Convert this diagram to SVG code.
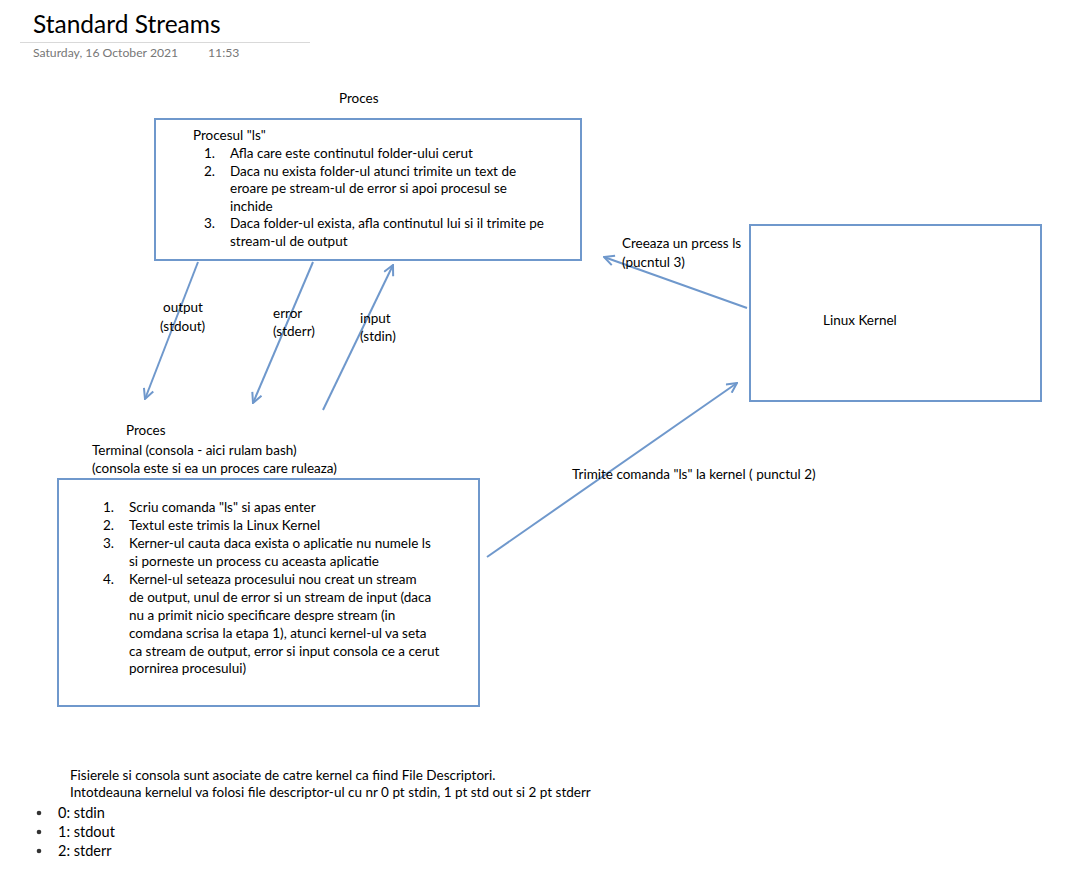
<svg xmlns="http://www.w3.org/2000/svg" width="1091" height="877" viewBox="0 0 1091 877">
<style>
text{font-family:Lato,"Liberation Sans",sans-serif;font-size:13.5px;fill:#000}
.box{fill:none;stroke:#6f98cc;stroke-width:2}
.con{fill:none;stroke:#6f98cc;stroke-width:2;marker-end:url(#arr)}
.title{font-size:24.5px}
.date{font-size:12.2px;fill:#777}
.big{font-size:14.5px}
</style>
<defs>
<marker id="arr" viewBox="0 0 12 12" refX="11" refY="6" markerWidth="12" markerHeight="12" markerUnits="userSpaceOnUse" orient="auto">
<path d="M1,1 L11,6 L1,11" fill="none" stroke="#6f98cc" stroke-width="2"/>
</marker>
</defs>
<rect width="1091" height="877" fill="#fff"/>
<g id="header">
<text class="title" x="33" y="33">Standard Streams</text>
<line x1="20" y1="42.5" x2="310" y2="42.5" stroke="#d9d9d9" stroke-width="1"/>
<text class="date" x="33" y="57">Saturday, 16 October 2021</text>
<text class="date" x="208" y="57">11:53</text>
</g>
<g id="proces-ls">
<text x="339" y="103">Proces</text>
<rect class="box" x="155" y="119" width="426" height="141"/>
<text x="193" y="140">Procesul "ls"</text>
<text x="204" y="158">1.</text><text x="230" y="158">Afla care este continutul folder-ului cerut</text>
<text x="204" y="176">2.</text><text x="230" y="176">Daca nu exista folder-ul atunci trimite un text de</text>
<text x="230" y="193">eroare pe stream-ul de error si apoi procesul se</text>
<text x="230" y="211">inchide</text>
<text x="204" y="228">3.</text><text x="230" y="228">Daca folder-ul exista, afla continutul lui  si il trimite pe</text>
<text x="230" y="246">stream-ul de output</text>
</g>
<g id="linux-kernel">
<rect class="box" x="750" y="225" width="291" height="176"/>
<text x="823" y="325">Linux Kernel</text>
</g>
<g id="terminal">
<text x="126" y="435">Proces</text>
<text x="92" y="455">Terminal (consola - aici rulam bash)</text>
<text x="92" y="473">(consola este si ea un proces care ruleaza)</text>
<rect class="box" x="58" y="479" width="421" height="227"/>
<text x="103" y="512">1.</text><text x="129" y="512">Scriu comanda "ls" si apas enter</text>
<text x="103" y="530">2.</text><text x="129" y="530">Textul este trimis la Linux Kernel</text>
<text x="103" y="548">3.</text><text x="129" y="548">Kerner-ul cauta daca exista o aplicatie nu numele ls</text>
<text x="129" y="566">si porneste un process cu aceasta aplicatie</text>
<text x="103" y="584">4.</text><text x="129" y="584">Kernel-ul seteaza procesului nou creat un stream</text>
<text x="129" y="602">de output, unul de error si un stream de input (daca</text>
<text x="129" y="620">nu a primit nicio specificare despre stream (in</text>
<text x="129" y="638">comdana scrisa la etapa 1), atunci kernel-ul va seta</text>
<text x="129" y="656">ca stream de output, error si input consola ce a cerut</text>
<text x="129" y="673">pornirea procesului)</text>
</g>
<g id="connectors">
<line class="con" x1="198" y1="262" x2="145" y2="399"/>
<line class="con" x1="313" y1="262" x2="253" y2="403"/>
<line class="con" x1="323" y1="410" x2="393" y2="265"/>
<line class="con" x1="747" y1="308" x2="604" y2="257"/>
<line class="con" x1="487" y1="557" x2="737" y2="383"/>
</g>
<g id="connector-labels">
<text x="163" y="312">output</text>
<text x="160" y="331">(stdout)</text>
<text x="273" y="318">error</text>
<text x="273" y="336">(stderr)</text>
<text x="360" y="323">input</text>
<text x="360" y="341">(stdin)</text>
<text x="622" y="248">Creeaza un prcess ls</text>
<text x="622" y="267">(pucntul 3)</text>
<text x="572" y="479">Trimite comanda "ls" la kernel ( punctul 2)</text>
</g>
<g id="notes">
<text x="70" y="780">Fisierele si consola sunt asociate de catre kernel ca fiind File Descriptori.</text>
<text x="70" y="797">Intotdeauna kernelul va folosi file descriptor-ul cu nr 0 pt stdin, 1 pt std out si 2 pt stderr</text>
<circle cx="39" cy="813" r="2.3" fill="#333"/>
<circle cx="39" cy="832" r="2.3" fill="#333"/>
<circle cx="39" cy="851" r="2.3" fill="#333"/>
<text class="big" x="58" y="818">0: stdin</text>
<text class="big" x="58" y="837">1: stdout</text>
<text class="big" x="58" y="856">2: stderr</text>
</g>
</svg>
